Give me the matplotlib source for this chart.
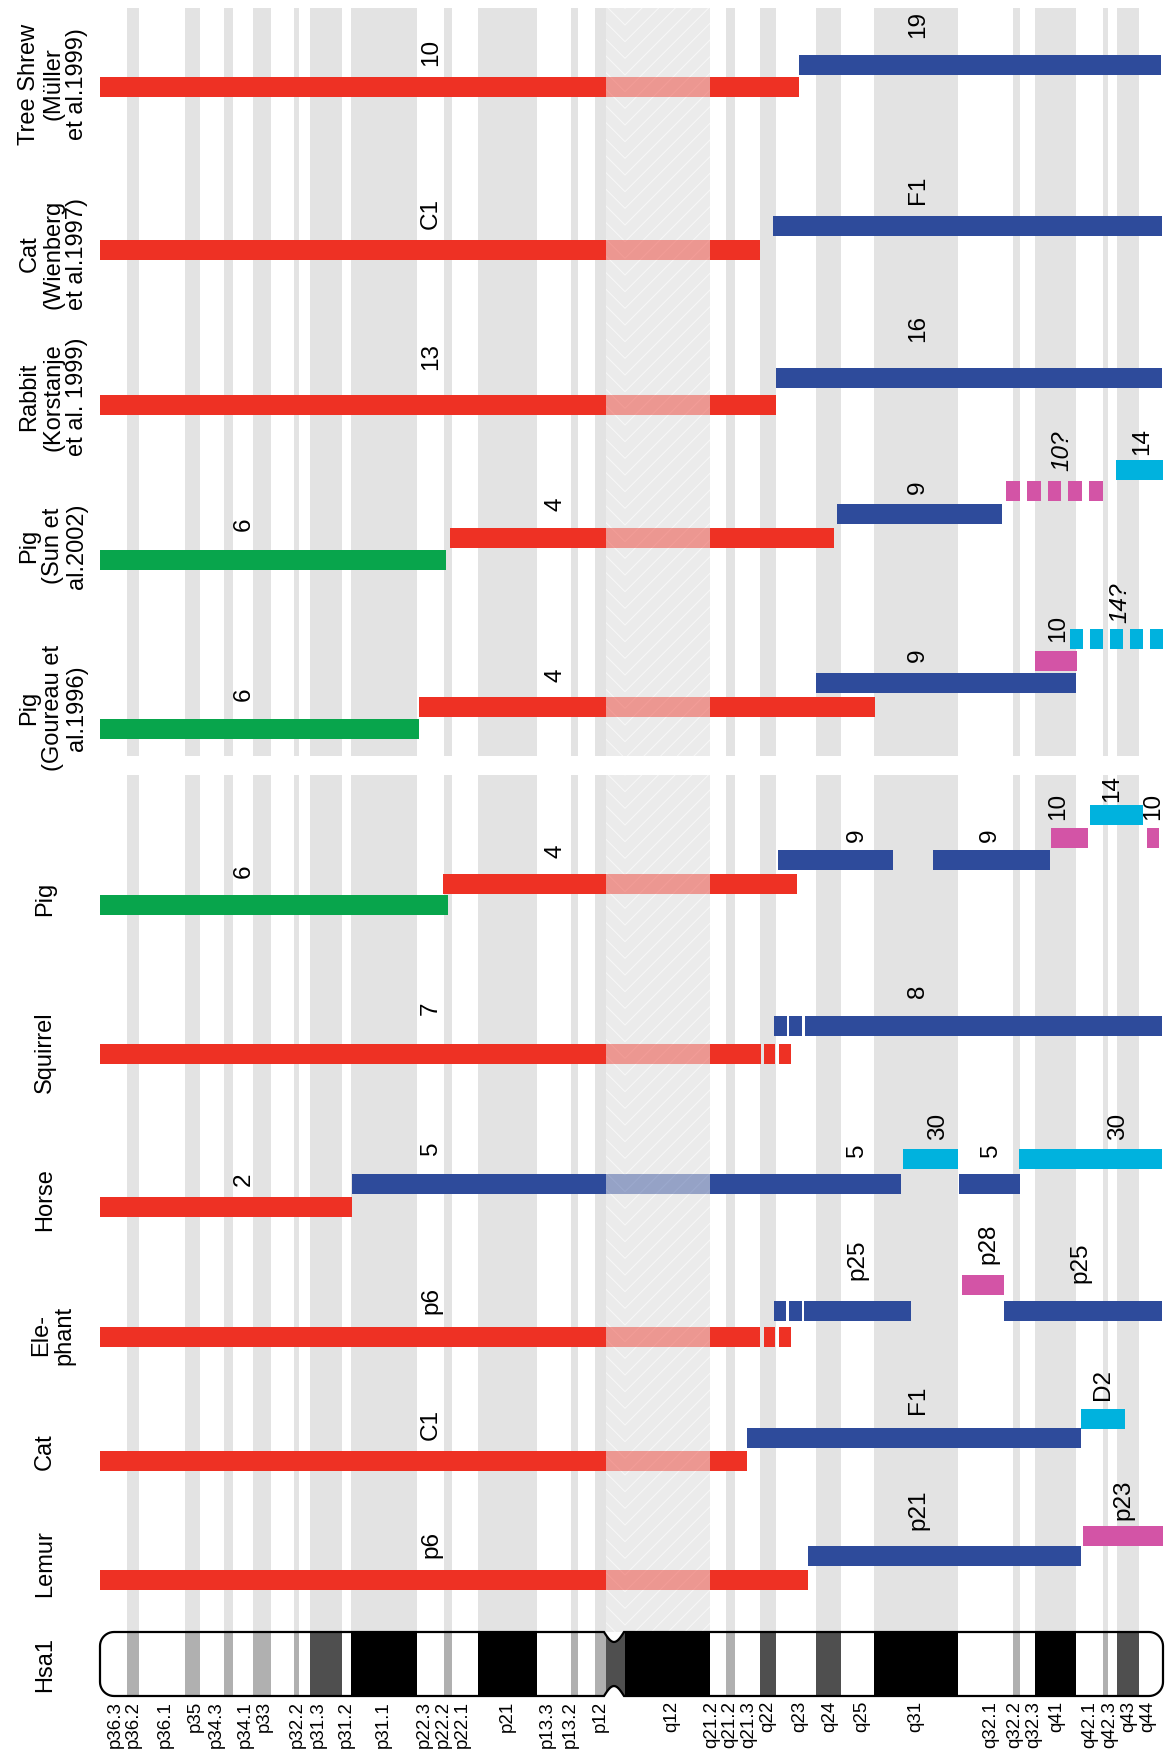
import matplotlib.pyplot as plt
from matplotlib.patches import Rectangle, PathPatch
from matplotlib.path import Path
import numpy as np

plt.rcParams['font.family'] = ['Liberation Sans', 'DejaVu Sans']
plt.rcParams['hatch.linewidth'] = 0.7

# ---- Hsa1 ideogram: band edges (px along chromosome) and stain of each band
# w white, g grey, d dark grey, k black, c centromere, h heterochromatin (q12)
band_edges = [100, 127, 139, 185, 200, 224, 233, 253, 271, 294, 299, 310, 342, 351,
              417, 444, 452, 478, 537, 571, 578, 595, 606, 625, 710, 726, 735, 760,
              776, 816, 841, 874, 958, 1013, 1020, 1035, 1076, 1103, 1108, 1117,
              1139, 1163]
band_stain = "wgwgwgwgwgwdwkwgwkwgwgchwgwdwdwkwgwkwgwdw"

band_labels = ['p36.3', 'p36.2', 'p36.1', 'p35', 'p34.3', 'p34.1', 'p33', 'p32.2',
               'p31.3', 'p31.2', 'p31.1', 'p22.3', 'p22.2', 'p22.1', 'p21', 'p13.3',
               'p13.2', 'p12', 'q12', 'q21.2', 'q21.2', 'q21.3', 'q22', 'q23', 'q24',
               'q25', 'q31', 'q32.1', 'q32.2', 'q32.3', 'q41', 'q42.1', 'q42.3',
               'q43', 'q44']
band_label_x = [115, 133, 165, 195, 216, 245, 264, 297, 318, 346, 383, 424, 443, 462,
                507, 547, 570, 600, 672, 712, 730, 749, 768, 800, 830, 862, 916, 991,
                1015, 1034, 1057, 1090, 1110, 1129, 1148]

# ---- species rows
species = ['Tree Shrew\n(Müller\net al.1999)', 'Cat\n(Wienberg\net al.1997)',
           'Rabbit\n(Korstanje\net al. 1999)', 'Pig\n(Sun et\nal.2002)',
           'Pig\n(Goureau et\nal.1996)', 'Pig', 'Squirrel', 'Horse', 'Ele-\nphant',
           'Cat', 'Lemur', 'Hsa1']
species_y = [84, 254, 397, 546, 708, 899, 1052, 1200, 1335, 1452, 1564, 1665]

# ---- conserved segments: (start, end, row level, colour, dashed)
segments = [
    # tree shrew
    (100, 799, 87, 'r', 0), (799, 1161, 65, 'b', 0),
    # cat (wienberg)
    (100, 760, 250, 'r', 0), (773, 1162, 226, 'b', 0),
    # rabbit
    (100, 776, 405, 'r', 0), (776, 1162, 378, 'b', 0),
    # pig (sun)
    (100, 446, 560, 'g', 0), (450, 834, 538, 'r', 0), (837, 1002, 514, 'b', 0),
    (1006, 1103, 491, 'm', 1), (1116, 1163, 470, 'c', 0),
    # pig (goureau)
    (100, 419, 729, 'g', 0), (419, 875, 707, 'r', 0), (816, 1076, 683, 'b', 0),
    (1035, 1077, 661, 'm', 0), (1070, 1163, 639, 'c', 1),
    # pig
    (100, 448, 905, 'g', 0), (443, 797, 884, 'r', 0), (778, 893, 860, 'b', 0),
    (933, 1050, 860, 'b', 0), (1051, 1088, 838, 'm', 0), (1090, 1143, 815, 'c', 0),
    (1147, 1159, 838, 'm', 0),
    # squirrel
    (100, 761, 1054, 'r', 0), (764, 775, 1054, 'r', 0), (779, 791, 1054, 'r', 0),
    (774, 787, 1026, 'b', 0), (789, 802, 1026, 'b', 0), (805, 1162, 1026, 'b', 0),
    # horse
    (100, 352, 1207, 'r', 0), (352, 901, 1184, 'b', 0), (903, 958, 1159, 'c', 0),
    (959, 1020, 1184, 'b', 0), (1019, 1162, 1159, 'c', 0),
    # elephant
    (100, 760, 1337, 'r', 0), (764, 775, 1337, 'r', 0), (779, 791, 1337, 'r', 0),
    (774, 786, 1311, 'b', 0), (789, 802, 1311, 'b', 0), (804, 911, 1311, 'b', 0),
    (962, 1004, 1285, 'm', 0), (1004, 1162, 1311, 'b', 0),
    # cat
    (100, 747, 1461, 'r', 0), (747, 1081, 1438, 'b', 0), (1081, 1125, 1419, 'c', 0),
    # lemur
    (100, 808, 1580, 'r', 0), (808, 1081, 1556, 'b', 0), (1083, 1163, 1536, 'm', 0),
]

# ---- segment labels: (text, x, y, italic)
seg_labels = [
    ('10', 431, 52, 0), ('19', 918, 24, 0),
    ('C1', 431, 213, 0), ('F1', 918, 190, 0),
    ('13', 431, 356, 0), ('16', 918, 328, 0),
    ('6', 244, 524, 0), ('4', 556, 504, 0), ('9', 918, 487, 0), ('10?', 1062, 451, 1),
    ('14', 1142, 441, 0),
    ('6', 244, 694, 0), ('4', 556, 675, 0), ('9', 918, 655, 0), ('10', 1058, 628, 0),
    ('14?', 1120, 603, 1),
    ('6', 244, 871, 0), ('4', 556, 851, 0), ('9', 857, 835, 0), ('9', 990, 835, 0),
    ('10', 1058, 806, 0), ('14', 1112, 788, 0), ('10', 1153, 806, 0),
    ('7', 431, 1008, 0), ('8', 918, 991, 0),
    ('2', 244, 1179, 0), ('5', 431, 1148, 0), ('5', 857, 1150, 0), ('30', 938, 1126, 0),
    ('5', 991, 1150, 0), ('30', 1118, 1126, 0),
    ('p6', 431, 1300, 0), ('p25', 857, 1260, 0), ('p28', 988, 1244, 0),
    ('p25', 1080, 1263, 0),
    ('C1', 431, 1424, 0), ('F1', 918, 1400, 0), ('D2', 1103, 1385, 0),
    ('p6', 431, 1545, 0), ('p21', 918, 1510, 0), ('p23', 1123, 1500, 0),
]

colours = {'r': '#ee3124', 'b': '#2e4b9b', 'g': '#08a54c', 'm': '#d354a6', 'c': '#00b2de'}
stain_col = {'w': 'white', 'g': '#b0b0b0', 'd': '#4f4f4f', 'k': 'black',
             'c': '#4f4f4f', 'h': 'black'}

chrom_top, chrom_bot = 1632, 1696
panels = [(8, 756), (775, chrom_top)]
het_lo, het_hi = 606, 710
bar_h = 20

fig = plt.figure(figsize=(11.69, 17.55), dpi=100)
ax = fig.add_axes([0, 0, 1, 1])
ax.set_xlim(0, 1169)
ax.set_ylim(1755, 0)
ax.axis('off')

# background stripes behind the rows
for i, s in enumerate(band_stain):
    a, b = band_edges[i], band_edges[i + 1]
    for top, bot in panels:
        if s in 'gdk':
            ax.add_patch(Rectangle((a, top), b - a, bot - top, facecolor='#e3e3e3',
                                   edgecolor='none', zorder=0))
        elif s in 'ch':
            ax.add_patch(Rectangle((a, top), b - a, bot - top, facecolor='#ebebeb',
                                   edgecolor='#f8f8f8', linewidth=0,
                                   hatch='\\\\' if s == 'c' else '//', zorder=0))


def draw_bar(x0, x1, y, col):
    cuts = sorted(set([x0, x1] + [c for c in (het_lo, het_hi) if x0 < c < x1]))
    for a, b in zip(cuts[:-1], cuts[1:]):
        faded = a >= het_lo and b <= het_hi
        ax.broken_barh([(a, b - a)], (y - bar_h / 2, bar_h), facecolors=col,
                       alpha=0.45 if faded else 1.0, zorder=2)


for x0, x1, y, c, dashed in segments:
    if dashed:
        w = (x1 - x0) / 7.0
        for k in range(5):
            draw_bar(x0 + k * 1.5 * w, x0 + k * 1.5 * w + w, y, colours[c])
    else:
        draw_bar(x0, x1, y, colours[c])

for txt, x, y, it in seg_labels:
    ax.text(x, y, txt, rotation=90, ha='center', va='center', fontsize=17.5,
            style='italic' if it else 'normal', zorder=3)

for name, y in zip(species, species_y):
    ax.text(45 if '\n' not in name else 53, y, name, rotation=90, ha='center',
            va='center', multialignment='center', fontsize=17, linespacing=1.1)

# chromosome outline with rounded ends and centromere constriction
x0, x1, r = band_edges[0], band_edges[-1], 14
cl, cr, depth = 604, 624, 10
t = np.linspace(0, np.pi / 2, 12)
nx = np.linspace(cl, cr, 15)
ny = depth * np.sin(np.pi * (nx - cl) / (cr - cl))
pts = [(x0 + r, chrom_top)]
pts += list(zip(nx, chrom_top + ny))
pts += [(x1 - r + r * np.sin(a), chrom_top + r - r * np.cos(a)) for a in t]
pts += [(x1 - r + r * np.cos(a), chrom_bot - r + r * np.sin(a)) for a in t]
pts += list(zip(nx[::-1], chrom_bot - ny[::-1]))
pts += [(x0 + r - r * np.sin(a), chrom_bot - r + r * np.cos(a)) for a in t]
pts += [(x0 + r - r * np.cos(a), chrom_top + r - r * np.sin(a)) for a in t]
pts.append(pts[0])
outline = PathPatch(Path(pts, closed=True), facecolor='none', edgecolor='black',
                    linewidth=1.6, zorder=5)
ax.add_patch(outline)

for i, s in enumerate(band_stain):
    a, b = band_edges[i], band_edges[i + 1]
    rect = Rectangle((a, chrom_top - 2), b - a, chrom_bot - chrom_top + 4,
                     facecolor=stain_col[s], edgecolor='none', zorder=4)
    ax.add_patch(rect)
    rect.set_clip_path(outline)

for lab, x in zip(band_labels, band_label_x):
    ax.text(x, chrom_bot + 5, lab, rotation=90, ha='center', va='top', fontsize=13.5)

fig.savefig('out.png', dpi=100)
